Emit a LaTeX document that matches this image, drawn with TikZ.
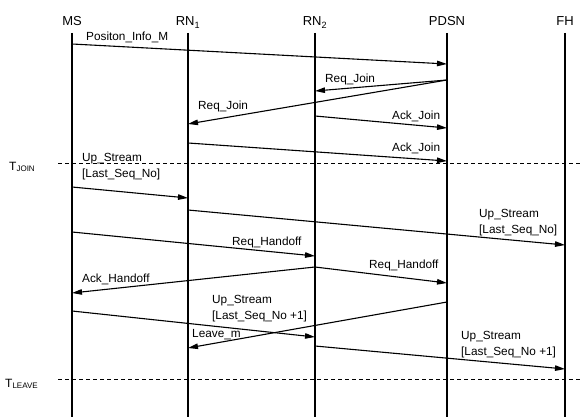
\documentclass[tikz,border=0pt]{standalone}
\usepackage{fontspec}
\setmainfont{Liberation Sans}
\usepackage{tikz}
\usetikzlibrary{arrows.meta,positioning,calc}
\tikzset{
  actor/.style={anchor=base,inner sep=1pt,
             font=\fontsize{13}{15}\selectfont},
  life/.style={line width=1.1pt},
  msg/.style={-{Triangle[length=10pt,width=5.5pt]},line width=1.1pt},
  lbl/.style={anchor=base west,inner sep=0pt,align=left,
             font=\fontsize{11.8}{16}\selectfont},
  tmark/.style={dashed,line width=0.9pt,dash pattern=on 4pt off 3pt},
  tlbl/.style={anchor=base west,inner sep=0pt,
             font=\fontsize{12}{14}\selectfont}
}

\begin{document}
\begin{tikzpicture}[x=1pt,y=-1pt]
  \useasboundingbox (0,0) rectangle (580,417);
  \node[actor] (ms) at (72,26) {MS};
  \node[actor] (rnone) at (188,26) {RN\textsubscript{1}};
  \node[actor] (rntwo) at (315,26) {RN\textsubscript{2}};
  \node[actor] (pdsn) at (447,26) {PDSN};
  \node[actor] (fh) at (565,26) {FH};

  \foreach \n in {ms,rnone,rntwo,pdsn,fh}
    \draw[life] (\n |- 0,33) -- (\n |- 0,417);

  % time marks
  \node[tlbl] (tjoin) at (9,170) {T\textsubscript{JOIN}};
  \node[tlbl] (tleave) at (5,387) {T\textsubscript{LEAVE}};
  \draw[tmark] (58,163) -- (580,163);
  \draw[tmark] (58,379) -- (580,379);

  % join phase
  \draw[msg] (ms |- 0,44) -- (pdsn |- 0,64);
  \node[lbl] (m1) at (86,41) {Positon\_Info\_M};
  \draw[msg] (pdsn |- 0,80) -- (rntwo |- 0,91);
  \node[lbl] (m2) at (325,83) {Req\_Join};
  \draw[msg] (pdsn |- 0,80) -- (rnone |- 0,124);
  \node[lbl] (m3) at (198,110) {Req\_Join};
  \draw[msg] (rntwo |- 0,116) -- (pdsn |- 0,128);
  \node[lbl] (m4) at (392,120) {Ack\_Join};
  \draw[msg] (rnone |- 0,143) -- (pdsn |- 0,161);
  \node[lbl] (m5) at (392,151) {Ack\_Join};

  % data and handoff
  \draw[msg] (ms |- 0,187) -- (rnone |- 0,198);
  \node[lbl] (m6) at (82,177) {Up\_Stream\\{[}Last\_Seq\_No{]}};
  \draw[msg] (rnone |- 0,210) -- (fh |- 0,245);
  \node[lbl] (m7) at (479,233) {Up\_Stream\\{[}Last\_Seq\_No{]}};
  \draw[msg] (ms |- 0,232) -- (rntwo |- 0,256);
  \node[lbl] (m8) at (232,245) {Req\_Handoff};
  \draw[msg] (rntwo |- 0,267) -- (pdsn |- 0,283);
  \node[lbl] (m9) at (369,268) {Req\_Handoff};
  \draw[msg] (rntwo |- 0,267) -- (ms |- 0,293);
  \node[lbl] (m10) at (82,282) {Ack\_Handoff};

  % leave phase
  \draw[msg] (ms |- 0,311) -- (rntwo |- 0,337);
  \node[lbl] (m11) at (212,319) {Up\_Stream\\{[}Last\_Seq\_No +1{]}};
  \draw[msg] (pdsn |- 0,302) -- (rnone |- 0,348);
  \node[lbl] (m12) at (192,337) {Leave\_m};
  \draw[msg] (rntwo |- 0,346) -- (fh |- 0,369);
  \node[lbl] (m13) at (461,355) {Up\_Stream\\{[}Last\_Seq\_No +1{]}};
\end{tikzpicture}
\end{document}
